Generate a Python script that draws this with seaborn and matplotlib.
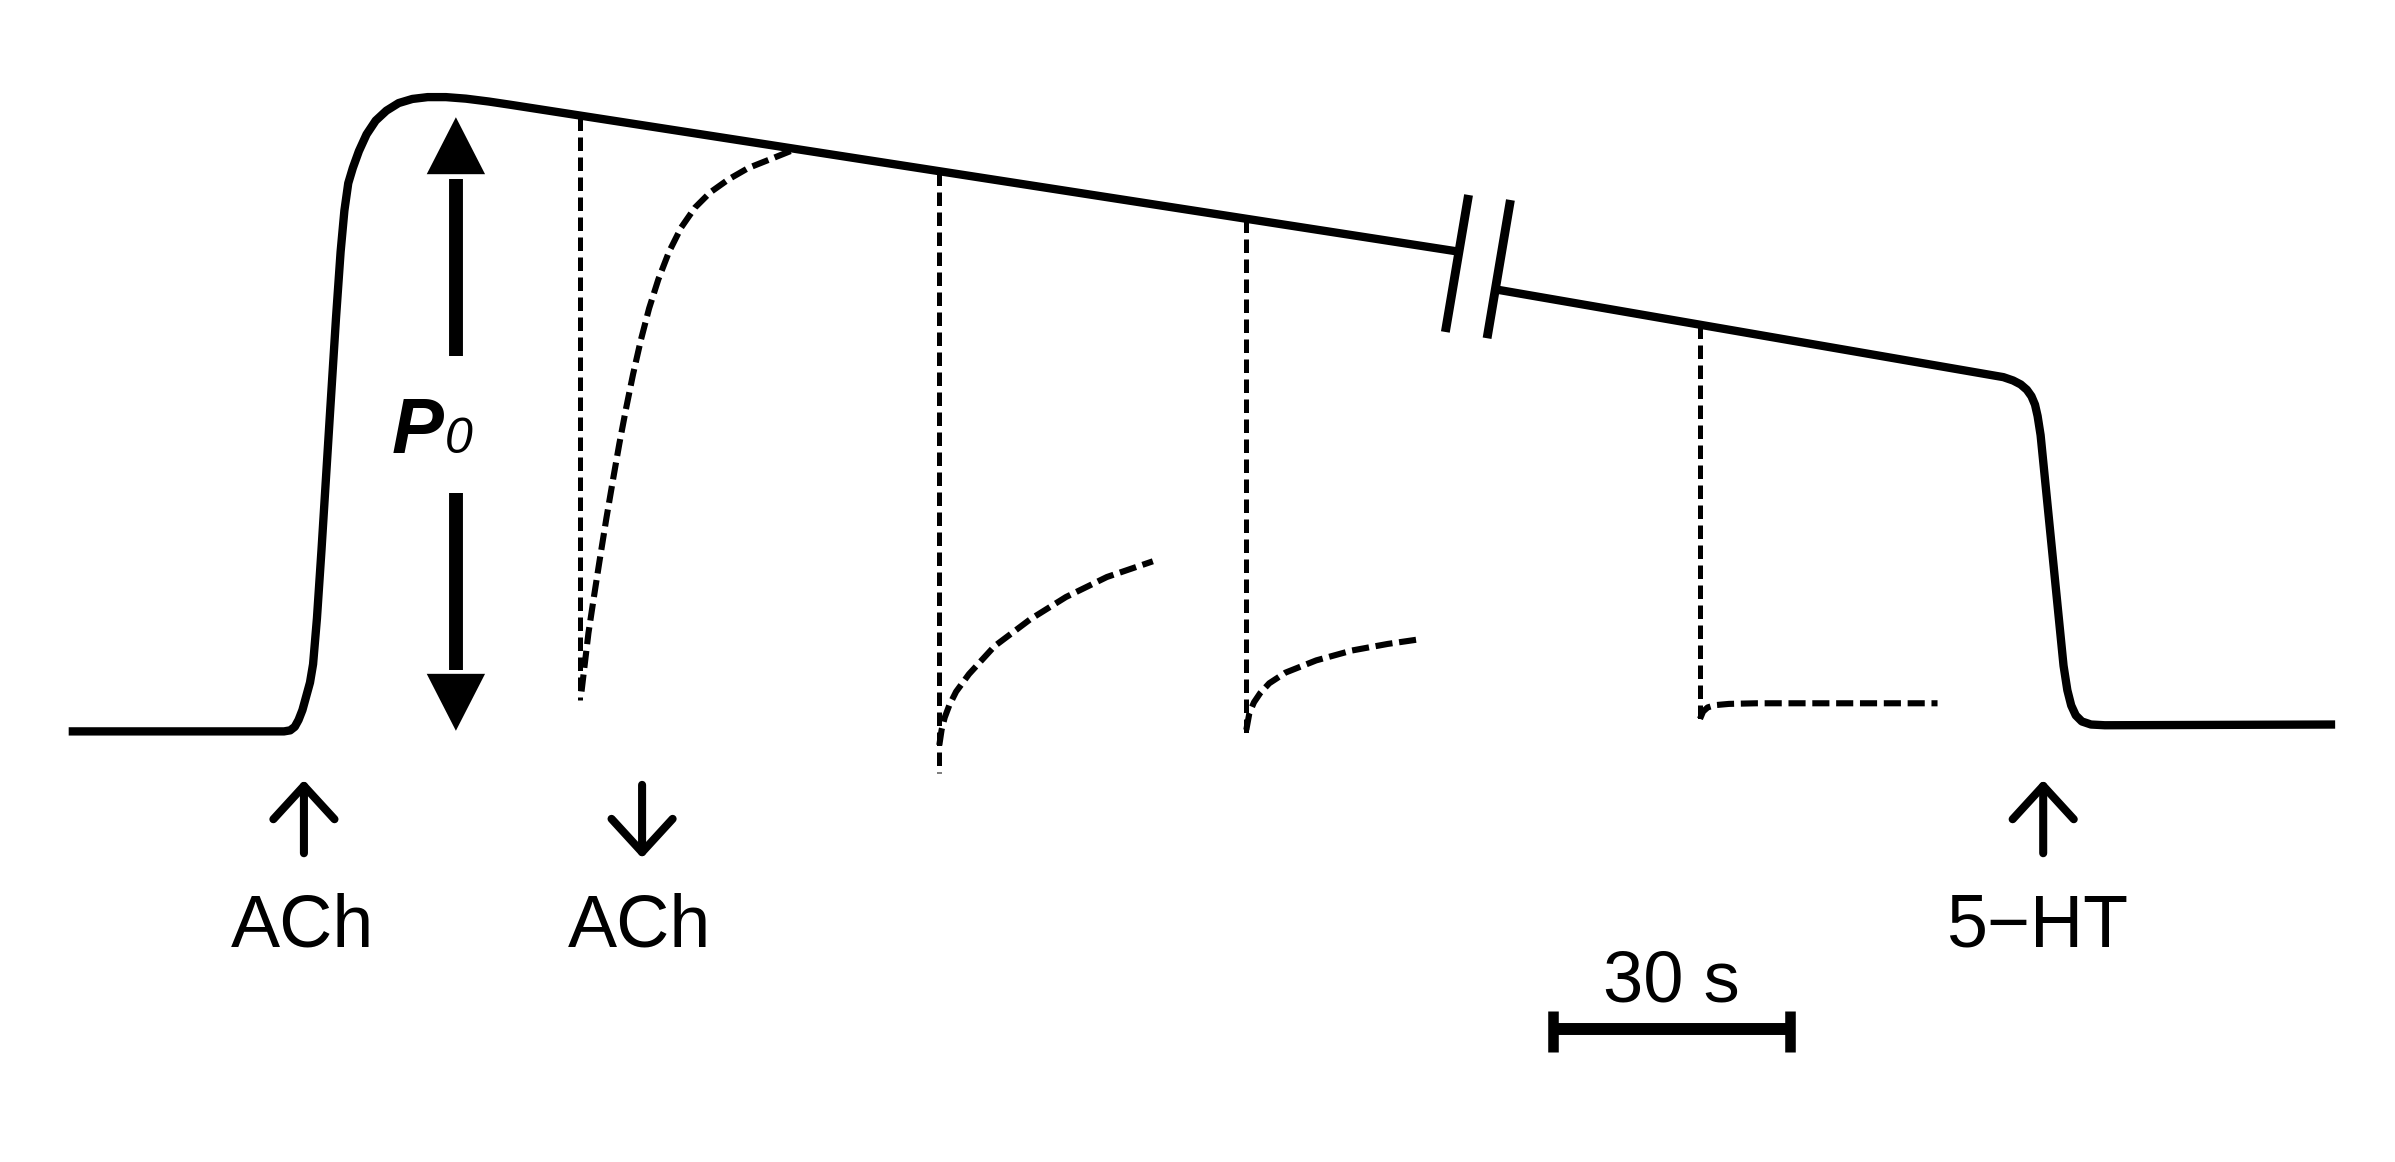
import matplotlib
matplotlib.use('Agg')
import matplotlib.pyplot as plt
import seaborn as sns

# tension trace, time in s (0 = ACh added), tension in % of P0
trace_t_a = [-29.83, -2.52, -1.74, -1.16, -0.68, -0.19, 0.29, 0.77, 1.16, 1.65, 2.23, 3.29,
             4.07, 4.65, 5.13, 5.62, 6.20, 6.97, 7.94, 9.10, 10.46, 12.01, 13.75, 15.69,
             18.01, 20.53, 23.44, 26.15, 146.04]
trace_f_a = [0.0, 0.0, 0.17, 0.75, 1.87, 3.48, 5.72, 7.96, 10.95, 18.41, 29.60, 51.49,
             67.41, 78.11, 84.83, 89.30, 91.79, 94.53, 97.26, 99.50, 101.12, 102.36, 103.03,
             103.33, 103.33, 103.08, 102.61, 102.09, 78.23]
trace_t_b = [151.50, 215.50, 216.74, 217.70, 218.48, 219.06, 219.51, 219.84, 220.22, 223.13,
             223.61, 224.10, 224.68, 225.45, 226.61, 228.36, 257.57]
trace_f_b = [71.92, 57.71, 57.16, 56.52, 55.65, 54.60, 53.23, 51.37, 48.26, 10.70,
             6.72, 4.23, 2.61, 1.62, 1.12, 1.00, 1.12]

# axis break marks
brk_t = [[147.68, 144.74], [152.99, 150.03]]
brk_f = [[87.39, 65.07], [86.57, 64.05]]

# quick-release tests (vertical drops) and the redevelopment of tension
test_t = [35.0, 80.57, 119.5, 177.03]
test_top = [100.02, 91.09, 83.43, 66.24]
test_bottom = [5.12, -6.84, -0.30, 2.04]

rec1_t = [35.20, 36.08, 36.80, 37.48, 38.35, 39.23, 40.00, 40.83, 41.74, 42.71, 43.77,
          44.94, 46.29, 47.84, 49.58, 51.52, 53.84, 56.36, 59.27, 62.31]
rec1_f = [6.50, 16.04, 22.14, 27.74, 34.70, 41.29, 46.89, 52.49, 58.21, 63.68, 68.91,
          73.63, 78.11, 82.09, 85.32, 87.81, 89.93, 91.79, 93.28, 94.85]
rec2_t = [80.57, 80.86, 81.25, 81.83, 82.70, 84.33, 87.57, 92.10, 96.63, 101.82, 107.65]
rec2_f = [-2.24, 0.25, 2.24, 4.23, 6.47, 9.33, 13.88, 18.26, 21.89, 25.15, 27.71]
rec3_t = [119.50, 119.89, 120.47, 121.25, 122.41, 124.48, 128.37, 132.91, 137.44, 141.33]
rec3_f = [0.25, 2.99, 4.73, 6.22, 7.84, 9.58, 11.57, 13.18, 14.25, 14.98]
rec4_t = [177.03, 177.42, 178.00, 178.97, 180.71, 184.20, 207.15]
rec4_f = [2.04, 3.23, 3.91, 4.28, 4.48, 4.58, 4.58]

# drug additions
stim_t = [0.0, 42.88, 220.55]
stim_up = [True, False, True]
stim_label = ['ACh', 'ACh', '5−HT']
stim_label_t = [-0.17, 42.51, 219.77]

# P0 arrow
p0_t = 19.27
p0_shaft = [(61.19, 90.0), (38.81, 10.0)]
p0_head = [(90.92, 100.05), (9.2, 0.1)]

# 30 s scale bar
bar_t = [158.4, 188.4]
bar_f = -48.43

sns.set_theme(style='white')
plt.rcParams['font.family'] = ['Liberation Sans', 'DejaVu Sans']
plt.rcParams['text.color'] = 'black'

fig = plt.figure(figsize=(23.95, 11.62), dpi=100)
ax = fig.add_axes([0, 0, 1, 1])
ax.set_xlim(-38.54, 265.16)
ax.set_ylim(-70.15, 119.15)
ax.axis('off')


def line(t, f, **kw):
    sns.lineplot(x=t, y=f, ax=ax, sort=False, estimator=None, color='black',
                 legend=False, **kw)


solid = dict(lw=6.0, solid_joinstyle='round', solid_capstyle='butt')
line(trace_t_a, trace_f_a, **solid)
line(trace_t_b, trace_f_b, **solid)
for bt, bf in zip(brk_t, brk_f):
    line(bt, bf, lw=6.4, solid_capstyle='butt')

for t, top, bot in zip(test_t, test_top, test_bottom):
    line([t, t], [top, bot], lw=3.6, linestyle=(0, (2.7, 1.3)), dash_capstyle='butt')
for rt, rf in [(rec1_t, rec1_f), (rec2_t, rec2_f), (rec3_t, rec3_f), (rec4_t, rec4_f)]:
    line(rt, rf, lw=4.4, linestyle=(0, (2.8, 1.1)), dash_capstyle='butt')

# P0 double arrow
for (s0, s1), (h0, h1) in zip(p0_shaft, p0_head):
    line([p0_t, p0_t], [s0, s1], lw=10.0, solid_capstyle='butt')
    ax.annotate('', xy=(p0_t, h1), xytext=(p0_t, h0),
                arrowprops=dict(arrowstyle='-|>,head_length=41,head_width=21',
                                mutation_scale=1, lw=0, color='black',
                                shrinkA=0, shrinkB=0))
ax.text(11.14, 45.42, 'P', fontsize=56, fontweight='bold', fontstyle='italic',
        ha='left', va='baseline')
ax.text(17.9, 45.3, '0', fontsize=36, fontstyle='italic', ha='left', va='baseline')

# drug arrows and labels
for t, up, lab, lt in zip(stim_t, stim_up, stim_label, stim_label_t):
    tip, tail = (-7.91, -19.85) if up else (-20.65, -8.71)
    ax.annotate('', xy=(t, tip), xytext=(t, tail),
                arrowprops=dict(arrowstyle='->,head_length=24,head_width=22',
                                mutation_scale=1, lw=5.8, color='black',
                                shrinkA=0, shrinkB=0))
    ax.text(lt, -35.07, lab, fontsize=53, ha='center', va='baseline')

# scale bar
line(bar_t, [bar_f, bar_f], lw=8.6, solid_capstyle='butt')
for t in bar_t:
    line([t, t], [-45.55, -52.26], lw=7.6, solid_capstyle='butt')
ax.text(sum(bar_t) / 2, -44.03, '30 s', fontsize=52, ha='center', va='baseline')

fig.savefig('out.png', dpi=100)
